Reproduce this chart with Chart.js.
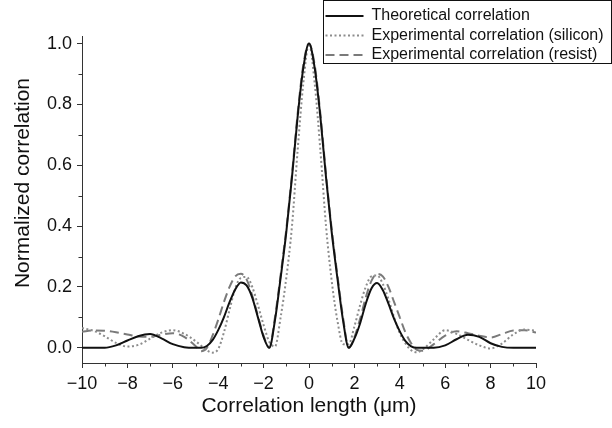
<!DOCTYPE html>
<html>
<head>
<meta charset="utf-8">
<script src="https://cdn.jsdelivr.net/npm/chart.js@4"></script>
<style>
  html, body { margin: 0; padding: 0; background: #fff; }
  #wrap { width: 612px; height: 428px; }
</style>
</head>
<body>
<div id="wrap"><canvas id="correlation-canvas" width="612" height="428"></canvas></div>
<script>
// correlation length (µm)
const positions = [
  -10, -9.5, -9, -8.5, -8, -7.5, -7, -6.5, -6, -5.5,
  -5, -4.75, -4.5, -4.25, -4, -3.75, -3.5, -3.25, -3, -2.75, -2.5, -2.25, -2, -1.75, -1.5, -1.25, -1, -0.75, -0.5, -0.25,
  0,
  0.25, 0.5, 0.75, 1, 1.25, 1.5, 1.75, 2, 2.25, 2.5, 2.75, 3, 3.25, 3.5, 3.75, 4, 4.25, 4.5, 4.75, 5,
  5.5, 6, 6.5, 7, 7.5, 8, 8.5, 9, 9.5, 10,
];

const theoretical = [
  0, 0, 0, 0.008, 0.024, 0.039, 0.045, 0.031, 0.012, 0.002,
  0, 0, 0.006, 0.025, 0.058, 0.1, 0.15, 0.192, 0.215, 0.205, 0.165, 0.1, 0.035, 0, 0.09, 0.23, 0.38, 0.56, 0.76, 0.92,
  1.0,
  0.92, 0.76, 0.56, 0.38, 0.23, 0.09, 0, 0.03, 0.08, 0.145, 0.195, 0.213, 0.19, 0.145, 0.095, 0.054, 0.022, 0.005, 0, 0,
  0, 0.008, 0.028, 0.043, 0.036, 0.015, 0.003, 0, 0, 0,
];

const silicon = [
  0.065, 0.056, 0.038, 0.016, 0.004, 0.01, 0.03, 0.05, 0.058, 0.046,
  0.022, 0.007, -0.008, -0.016, -0.004, 0.05, 0.125, 0.195, 0.23, 0.233, 0.2, 0.14, 0.075, 0.02, 0.004, 0.1, 0.23, 0.4, 0.65, 0.87,
  1.0,
  0.87, 0.65, 0.4, 0.22, 0.09, 0.012, 0.012, 0.07, 0.14, 0.2, 0.235, 0.238, 0.21, 0.16, 0.1, 0.048, 0.014, -0.008, -0.015, -0.006,
  0.028, 0.058, 0.046, 0.026, 0.008, -0.002, 0.014, 0.044, 0.06, 0.056,
];

const resist = [
  0.053, 0.057, 0.056, 0.051, 0.044, 0.037, 0.036, 0.043, 0.048, 0.036,
  0.006, -0.011, 0, 0.04, 0.092, 0.15, 0.2, 0.235, 0.243, 0.225, 0.172, 0.105, 0.04, 0, 0.1, 0.24, 0.39, 0.57, 0.77, 0.93,
  1.0,
  0.93, 0.77, 0.57, 0.39, 0.24, 0.1, 0, 0.035, 0.095, 0.165, 0.22, 0.243, 0.235, 0.2, 0.15, 0.1, 0.05, 0.015, -0.007, -0.01,
  0.012, 0.04, 0.054, 0.048, 0.04, 0.034, 0.045, 0.057, 0.058, 0.05,
];

const seriesLabels = [
  "Theoretical correlation",
  "Experimental correlation (silicon)",
  "Experimental correlation (resist)",
];

const xTicks = [-10, -8, -6, -4, -2, 0, 2, 4, 6, 8, 10];
const yTicks = [0, 0.2, 0.4, 0.6, 0.8, 1.0];

const FONT = "'Liberation Sans', Arial, Helvetica, sans-serif";
const AXIS_COLOR = "#333";

const toPoints = (values) => positions.map((x, i) => ({ x, y: values[i] }));

// short ticks half way between the labelled ones
const minorTicks = {
  id: "minorTicks",
  afterDraw(chart) {
    const { ctx, scales: { x, y } } = chart;
    ctx.save();
    ctx.strokeStyle = AXIS_COLOR;
    ctx.lineWidth = 1;
    ctx.beginPath();
    for (let i = 0; i < xTicks.length - 1; i++) {
      const px = Math.round(x.getPixelForValue((xTicks[i] + xTicks[i + 1]) / 2)) + 0.5;
      ctx.moveTo(px, y.bottom);
      ctx.lineTo(px, y.bottom + 3.5);
    }
    for (let i = 0; i < yTicks.length - 1; i++) {
      const py = Math.round(y.getPixelForValue((yTicks[i] + yTicks[i + 1]) / 2)) + 0.5;
      ctx.moveTo(x.left, py);
      ctx.lineTo(x.left - 3.5, py);
    }
    ctx.stroke();
    ctx.restore();
  },
};

// y title sits a little above the middle of the axis
const yTitle = {
  id: "yTitle",
  afterDraw(chart) {
    const { ctx } = chart;
    ctx.save();
    ctx.translate(23, 183);
    ctx.rotate(-Math.PI / 2);
    ctx.font = `21px ${FONT}`;
    ctx.fillStyle = "#111";
    ctx.textAlign = "center";
    ctx.textBaseline = "middle";
    ctx.fillText("Normalized correlation", 0, 0);
    ctx.restore();
  },
};

// boxed legend in the top right corner
const boxedLegend = {
  id: "boxedLegend",
  afterDraw(chart) {
    const { ctx } = chart;
    const left = 323.5, top = 0.5, right = 611.5, bottom = 63.5;
    const rowHeight = 19.5, firstRow = 16;
    ctx.save();
    ctx.fillStyle = "#fff";
    ctx.fillRect(left, top, right - left, bottom - top);
    ctx.strokeStyle = "#111";
    ctx.lineWidth = 1;
    ctx.strokeRect(left, top, right - left, bottom - top);
    ctx.font = `16px ${FONT}`;
    ctx.textBaseline = "middle";
    chart.data.datasets.forEach((ds, i) => {
      const cy = firstRow + i * rowHeight;
      ctx.beginPath();
      ctx.setLineDash(ds.borderDash || []);
      ctx.strokeStyle = ds.borderColor;
      ctx.lineWidth = ds.borderWidth;
      ctx.moveTo(left + 2, cy);
      ctx.lineTo(left + 40, cy);
      ctx.stroke();
      ctx.setLineDash([]);
      ctx.fillStyle = "#111";
      ctx.fillText(ds.label, left + 48, cy);
    });
    ctx.restore();
  },
};

const lineStyle = (color, dash) => ({
  borderColor: color,
  borderWidth: 2,
  borderDash: dash,
  pointRadius: 0,
  fill: false,
  cubicInterpolationMode: "monotone",
});

new Chart(document.getElementById("correlation-canvas").getContext("2d"), {
  type: "line",
  data: {
    datasets: [
      { label: seriesLabels[0], data: toPoints(theoretical), ...lineStyle("#111", []) },
      { label: seriesLabels[1], data: toPoints(silicon), ...lineStyle("#8c8c8c", [2, 2.5]) },
      { label: seriesLabels[2], data: toPoints(resist), ...lineStyle("#7a7a7a", [9, 5]) },
    ],
  },
  options: {
    responsive: false,
    animation: false,
    layout: { autoPadding: false, padding: { left: 0, top: 36, right: 76, bottom: 0 } },
    scales: {
      x: {
        type: "linear",
        min: -10,
        max: 10,
        afterBuildTicks: (scale) => { scale.ticks = xTicks.map((value) => ({ value })); },
        afterFit: (scale) => { scale.height = 65; },
        border: { display: true, color: AXIS_COLOR, width: 1 },
        grid: { drawOnChartArea: false, drawTicks: true, tickLength: 5, tickColor: AXIS_COLOR },
        ticks: {
          color: "#111",
          padding: 5,
          maxRotation: 0,
          font: { family: FONT, size: 18 },
          callback: (v) => (v < 0 ? "\u2212" + Math.abs(v) : String(v)),
        },
        title: {
          display: true,
          text: "Correlation length (\u03bcm)",
          color: "#111",
          font: { family: FONT, size: 21 },
          padding: { top: 0, bottom: 9 },
        },
      },
      y: {
        min: -0.05,
        max: 1.025,
        afterBuildTicks: (scale) => { scale.ticks = yTicks.map((value) => ({ value })); },
        afterFit: (scale) => { scale.width = 82; },
        border: { display: true, color: AXIS_COLOR, width: 1 },
        grid: { drawOnChartArea: false, drawTicks: true, tickLength: 5, tickColor: AXIS_COLOR },
        ticks: {
          color: "#111",
          padding: 5,
          font: { family: FONT, size: 18 },
          callback: (v) => v.toFixed(1),
        },
        title: { display: false },
      },
    },
    plugins: {
      legend: { display: false },
      tooltip: { enabled: false },
    },
  },
  plugins: [minorTicks, yTitle, boxedLegend],
});
</script>
</body>
</html>
